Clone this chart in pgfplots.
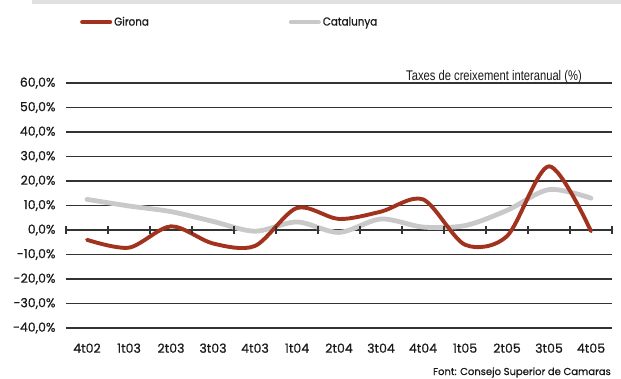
\documentclass[border=0pt]{standalone}
\usepackage{fontspec}
\setmainfont{Poppins}[FakeBold=0.6]
\newfontfamily\tickfont[FakeBold=0.7]{Poppins}
\newfontfamily\condfont[FakeStretch=0.8]{Liberation Sans}
\newfontfamily\legfont[FakeStretch=0.9, FakeBold=0.7]{Poppins}
\usepackage{pgfplots}
\pgfplotsset{compat=1.18}
\definecolor{gironared}{HTML}{A0321E}
\definecolor{catgray}{HTML}{C9C9C9}
\definecolor{gridc}{HTML}{333333}

\begin{document}
\begin{tikzpicture}[x=1pt,y=1pt]
\path[use as bounding box] (0,0) rectangle (621,378);
\fill[black!12] (32,374) rectangle (621,378);
\begin{axis}[
    at={(66pt,50pt)}, anchor=south west,
    scale only axis, width=546pt, height=245pt,
    xmin=-0.5, xmax=12.5, ymin=-40, ymax=60,
    clip=false,
    axis line style={draw=none},
    major tick length=0pt,
    ymajorgrids,
    grid style={gridc, line width=1.3pt},
    ytick={-40,-30,...,60},
    yticklabels={{-40,0\%},{-30,0\%},{-20,0\%},{-10,0\%},{0,0\%},{10,0\%},{20,0\%},{30,0\%},{40,0\%},{50,0\%},{60,0\%}},
    xtick={0,...,12},
    xticklabels={4t02,1t03,2t03,3t03,4t03,1t04,2t04,3t04,4t04,1t05,2t05,3t05,4t05},
    tick label style={font=\tickfont\fontsize{12.5}{14}\selectfont, text=black!90},
    yticklabel style={xshift=-7pt},
    xticklabel style={yshift=-12pt},
    legend columns=2,
    legend style={at={(rel axis cs:0.0256,1)}, anchor=west, yshift=61pt,
        draw=none, fill=none, inner sep=0pt,
        font=\legfont\fontsize{11.5}{13}\selectfont, text=black!90,
        /tikz/every even column/.append style={column sep=138pt}},
    legend image code/.code={\draw[#1] (0pt,0pt) -- (28pt,0pt);},
]
\addlegendimage{gironared, line width=4pt, line cap=round}
\addlegendentry{Girona}
\addlegendimage{catgray, line width=4pt, line cap=round}
\addlegendentry{Catalunya}

\addplot[catgray, line width=4.8pt, smooth, line cap=round, forget plot] coordinates {
    (0,12.5) (1,9.8) (2,7.5) (3,3.5) (4,-0.5) (5,3.3) (6,-1) (7,4.5)
    (8,1.2) (9,1.8) (10,8) (11,16.5) (12,13)
};
\addplot[gironared, line width=3.9pt, smooth, line cap=round, forget plot] coordinates {
    (0,-4) (1,-7.2) (2,1.5) (3,-5.5) (4,-6.5) (5,9) (6,4.5) (7,7.5)
    (8,12.5) (9,-6) (10,-2.5) (11,26) (12,-0.5)
};
\addplot[gridc, line width=1.3pt, only marks, mark=|, mark size=4pt, forget plot] coordinates {
    (-0.5,0) (0.5,0) (1.5,0) (2.5,0) (3.5,0) (4.5,0) (5.5,0) (6.5,0)
    (7.5,0) (8.5,0) (9.5,0) (10.5,0) (11.5,0) (12.5,0)
};
\node[anchor=base east, inner sep=0pt, font=\condfont\fontsize{14}{16}\selectfont, text=black!90]
    at (rel axis cs:0.945,1) [yshift=3pt] {Taxes de creixement interanual (\%)};
\end{axis}
\node[anchor=base east, inner sep=0pt, font=\fontsize{10}{12}\selectfont, text=black!90]
    at (611,3) {Font: Consejo Superior de Camaras};
\end{tikzpicture}
\end{document}
